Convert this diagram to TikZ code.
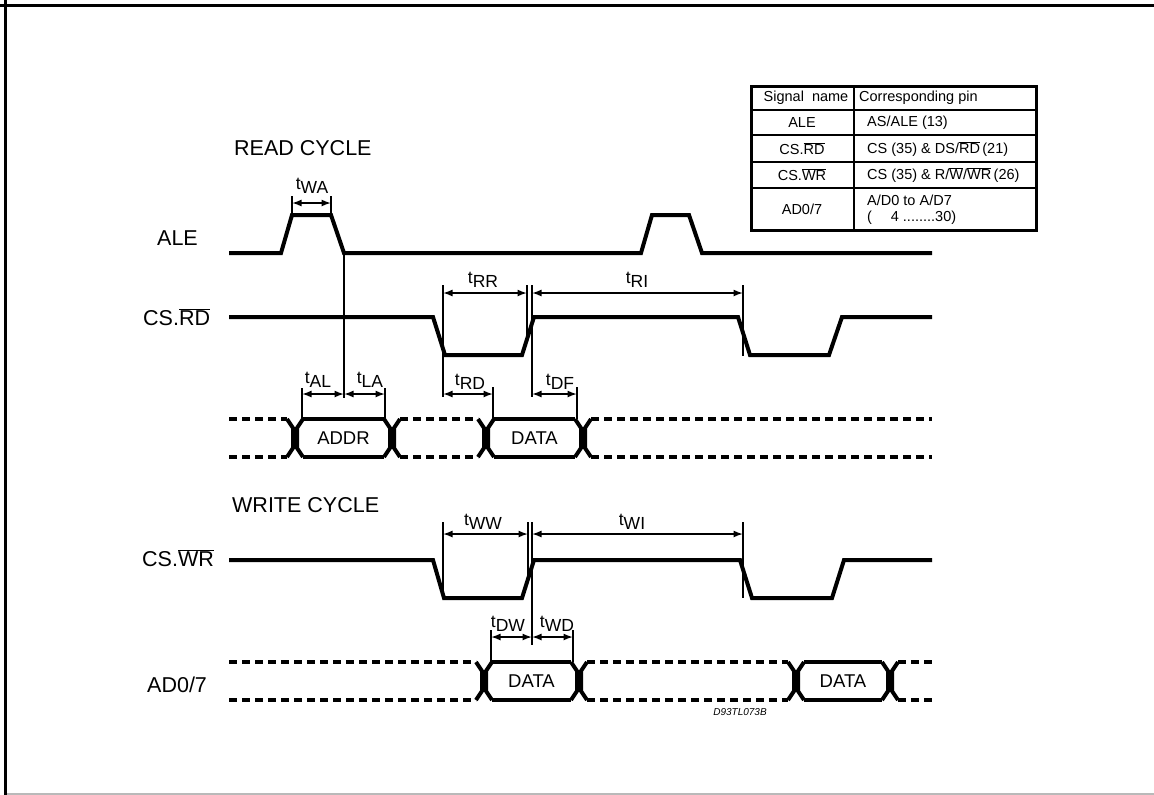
\documentclass[tikz,border=0pt]{standalone}
\usepackage{fontspec}
\setmainfont{Liberation Sans}
\usepackage{tikz}
\usetikzlibrary{arrows.meta}
\definecolor{edgegray}{RGB}{185,185,185}
\tikzset{
  sig/.style={line width=4pt},
  bus/.style={line width=4pt, dash pattern=on 8pt off 5pt},
  tickln/.style={line width=1.8pt},
  dim/.style={{Latex[length=9.5pt,width=7pt]}-{Latex[length=9.5pt,width=7pt]}, line width=1.5pt},
  lbl/.style={font=\fontsize{21.5}{24}\selectfont, anchor=west, inner sep=0pt},
  tlbl/.style={font=\fontsize{17.5}{19}\selectfont, inner sep=0pt},
  boxlbl/.style={font=\fontsize{18.5}{20}\selectfont, inner sep=0pt},
  tab/.style={font=\fontsize{14.5}{16}\selectfont, inner sep=0pt},
}
\newcommand{\tsym}[1]{t\raisebox{-4pt}{#1}}
\newcommand{\ovl}[1]{$\overline{\mbox{#1}}$}
% bus crossing ")(" centred on x=#1, between y=#2 (top) and #3 (bottom)
\newcommand{\xpair}[3]{%
  \draw[sig] ({#1-8},#2) -- ({#1-2},{#2+9}) -- ({#1-2},{#3-9}) -- ({#1-8},#3);
  \draw[sig] ({#1+8},#2) -- ({#1+2},{#2+9}) -- ({#1+2},{#3-9}) -- ({#1+8},#3);}

\begin{document}
\begin{tikzpicture}[x=1pt,y=-1pt]
  \useasboundingbox (0,0) rectangle (1154,795);
  % frame
  \draw[line width=3pt] (0,5) -- (1154,5);
  \draw[line width=3pt] (5.5,0) -- (5.5,795);
  \draw[edgegray, line width=2pt] (7,794) -- (1154,794);

  % signal names
  \node[lbl] (readcy) at (234,148) {READ CYCLE};
  \node[lbl] (ale) at (157,238) {ALE};
  \node[lbl] (csrd) at (143,317) {CS.\ovl{RD}};
  \node[lbl] (writecy) at (232,505) {WRITE CYCLE};
  \node[lbl] (cswr) at (142,558) {CS.\ovl{WR}};
  \node[lbl] (ad) at (147,685) {AD0/7};

  % ---- read cycle ----
  \draw[sig] (229,253) -- (281,253) -- (292,215) -- (331,215) -- (344,253) -- (641,253)
    -- (652,215) -- (689,215) -- (702,253) -- (932,253);
  \draw[sig] (229,317) -- (433,317) -- (445,355) -- (522,355) -- (534,317) -- (738,317)
    -- (750,355) -- (829,355) -- (842,317) -- (932,317);
  % read bus
  \foreach \a/\b in {229/287, 400/478, 591/932} {
    \draw[bus] (\a,419) -- (\b,419);
    \draw[bus] (\a,457) -- (\b,457);
  }
  \foreach \l/\r/\t/\n in {295/392/ADDR/addr, 486/583/DATA/rdata} {
    \xpair{\l}{419}{457}
    \xpair{\r}{419}{457}
    \draw[sig] ({\l+8},419) -- ({\r-8},419);
    \draw[sig] ({\l+8},457) -- ({\r-8},457);
    \node[boxlbl] (\n) at ({(\l+\r)/2},438) {\t};
  }
  % tWA
  \draw[tickln] (292,196) -- (292,215);
  \draw[tickln] (331,196) -- (331,215);
  \draw[dim] (292,203) -- (331,203);
  \node[tlbl] (twa) at (312,186) {\tsym{WA}};
  % tAL, tLA
  \draw[tickln] (344,253) -- (344,398);
  \draw[tickln] (302,388) -- (302,419);
  \draw[tickln] (385,388) -- (385,419);
  \draw[dim] (302,394) -- (344,394);
  \draw[dim] (344,394) -- (385,394);
  \node[tlbl] (tal) at (318,380) {\tsym{AL}};
  \node[tlbl] (tla) at (370,380) {\tsym{LA}};
  % tRR, tRI
  \draw[tickln] (443,285) -- (443,397);
  \draw[tickln] (527,285) -- (527,339);
  \draw[tickln] (532,285) -- (532,397);
  \draw[tickln] (743,285) -- (743,356);
  \draw[dim] (443,293) -- (527,293);
  \draw[dim] (532,293) -- (743,293);
  \node[tlbl] (trr) at (483,280) {\tsym{RR}};
  \node[tlbl] (tri) at (637,280) {\tsym{RI}};
  % tRD, tDF
  \draw[tickln] (493,387) -- (493,419);
  \draw[tickln] (577,387) -- (577,419);
  \draw[dim] (443,394) -- (493,394);
  \draw[dim] (532,394) -- (577,394);
  \node[tlbl] (trd) at (470,382) {\tsym{RD}};
  \node[tlbl] (tdf) at (560,382) {\tsym{DF}};

  % ---- write cycle ----
  \draw[sig] (229,560) -- (433,560) -- (444,598) -- (522,598) -- (534,560) -- (740,560)
    -- (752,598) -- (832,598) -- (844,560) -- (932,560);
  % write bus
  \foreach \a/\b in {229/476, 587/788, 898/932} {
    \draw[bus] (\a,662) -- (\b,662);
    \draw[bus] (\a,700) -- (\b,700);
  }
  \foreach \l/\r/\n in {484/579/wdata, 796/890/wdatab} {
    \xpair{\l}{662}{700}
    \xpair{\r}{662}{700}
    \draw[sig] ({\l+8},662) -- ({\r-8},662);
    \draw[sig] ({\l+8},700) -- ({\r-8},700);
    \node[boxlbl] (\n) at ({(\l+\r)/2},681) {DATA};
  }
  % tWW, tWI
  \draw[tickln] (443,522) -- (443,598);
  \draw[tickln] (528,522) -- (528,575);
  \draw[tickln] (532,522) -- (532,645);
  \draw[tickln] (743,522) -- (743,598);
  \draw[dim] (443,534) -- (528,534);
  \draw[dim] (532,534) -- (743,534);
  \node[tlbl] (tww) at (483,522) {\tsym{WW}};
  \node[tlbl] (twi) at (632,522) {\tsym{WI}};
  % tDW, tWD
  \draw[tickln] (491,630) -- (491,662);
  \draw[tickln] (573,630) -- (573,662);
  \draw[dim] (491,637) -- (532,637);
  \draw[dim] (532,637) -- (573,637);
  \node[tlbl] (tdw) at (508,624) {\tsym{DW}};
  \node[tlbl] (twd) at (557,624) {\tsym{WD}};

  \node[font=\fontsize{10}{12}\selectfont\itshape, inner sep=0pt] (ref) at (740,712) {D93TL073B};

  % ---- pin table ----
  \draw[line width=3pt] (751,86) rectangle (1036,230);
  \draw[line width=2pt] (854,86) -- (854,230);
  \foreach \y in {110,135,162,188}
    \draw[line width=2.5pt] (751,\y) -- (1036,\y);
  \node[tab] (hsig) at (806,98) {Signal\ \ name};
  \node[tab, anchor=west] (hpin) at (859,98) {Corresponding pin};
  \node[tab] (sale) at (802,123) {ALE};
  \node[tab, anchor=west] (pale) at (867,123) {AS/ALE (13)};
  \node[tab] (srd) at (802,149) {CS.\ovl{RD}};
  \node[tab, anchor=west] (prd) at (867,149) {CS (35) \& DS/\ovl{RD}\,(21)};
  \node[tab] (swr) at (802,175) {CS.\ovl{WR}};
  \node[tab, anchor=west] (pwr) at (867,175) {CS (35) \& R/\ovl{W}/\ovl{WR}\,(26)};
  \node[tab] (sad) at (802,209) {AD0/7};
  \node[tab, anchor=west] (pad) at (867,200) {A/D0 to A/D7};
  \node[tab, anchor=west] (pad2) at (867,218) {(\hspace{1.3em}4 ........30)};
\end{tikzpicture}
\end{document}
